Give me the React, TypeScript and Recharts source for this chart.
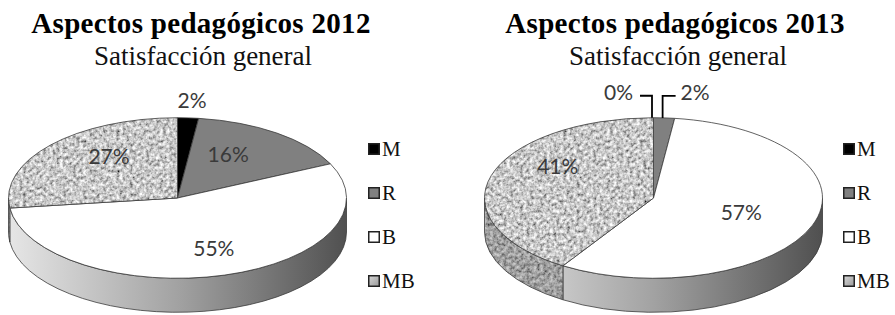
import React from 'react';
import { PieChart, Pie, Cell, Legend } from 'recharts';

// ---------- data ----------
const categories = ['M', 'R', 'B', 'MB'];
const values2012 = [2, 16, 55, 27];
const values2013 = [0, 2, 57, 41];
const titles = ['Aspectos pedagógicos 2012', 'Aspectos pedagógicos 2013'];
const subtitle = 'Satisfacción general';

const data2012 = categories.map((name, i) => ({ name, value: values2012[i] }));
const data2013 = categories.map((name, i) => ({ name, value: values2013[i] }));

// ---------- style ----------
const RAD = Math.PI / 180;
const RY = 0.475;
const DEPTH = 34;
const STROKE = '#3a3a3a';
const TOP_FILL: Record<string, string> = {
  M: '#000000',
  R: '#808080',
  B: '#ffffff',
  MB: 'url(#mbTex)',
};
const LEGEND_FILL: Record<string, string> = {
  M: '#000000',
  R: '#808080',
  B: '#ffffff',
  MB: 'url(#mbLeg)',
};

type Spec =
  | { kind: 'in'; fx: number; fy: number }
  | { kind: 'above'; dx: number; dy: number }
  | { kind: 'leaderL' }
  | { kind: 'leaderR' };

const specs2012: Spec[] = [
  { kind: 'above', dx: 4, dy: -17 },
  { kind: 'in', fx: 0.51, fy: 0.67 },
  { kind: 'in', fx: 0.77, fy: 0.65 },
  { kind: 'in', fx: 0.54, fy: 0.78 },
];
const specs2013: Spec[] = [
  { kind: 'leaderL' },
  { kind: 'leaderR' },
  { kind: 'in', fx: 0.552, fy: 0.535 },
  { kind: 'in', fx: 0.59, fy: 1.39 },
];

const makeShape = (gradId: string) => (props: any) => {
  const { cx, cy, outerRadius, startAngle, endAngle } = props;
  const cat: string = props.name ?? props.payload?.name;
  const rx = outerRadius;
  const ry = outerRadius * RY;
  const P = (a: number, dy = 0): [number, number] => [
    cx + rx * Math.cos(a * RAD),
    cy - ry * Math.sin(a * RAD) + dy,
  ];
  const s = Math.max(startAngle, endAngle);
  const e = Math.min(startAngle, endAngle);
  const span = s - e;
  if (span < 0.01) return <g />;
  const parts: React.ReactNode[] = [];
  // front side
  const hi = Math.min(s, 0);
  const lo = Math.max(e, -180);
  if (hi - lo > 0.01) {
    const [x1, y1] = P(hi);
    const [x2, y2] = P(lo);
    const d = `M${x1},${y1} A${rx},${ry} 0 0 1 ${x2},${y2} L${x2},${y2 + DEPTH} A${rx},${ry} 0 0 0 ${x1},${y1 + DEPTH} Z`;
    if (cat === 'MB') {
      parts.push(<path key="s1" d={d} fill="url(#mbTex)" stroke="none" />);
      parts.push(<path key="s2" d={d} fill="rgba(0,0,0,0.2)" stroke={STROKE} strokeWidth={0.8} />);
    } else if (cat === 'B') {
      parts.push(<path key="s1" d={d} fill={`url(#${gradId})`} stroke={STROKE} strokeWidth={0.8} />);
    } else {
      parts.push(<path key="s1" d={d} fill={cat === 'M' ? '#000' : '#5a5a5a'} stroke={STROKE} strokeWidth={0.8} />);
    }
  }
  // top face
  const [sx, sy] = P(s);
  const [ex, ey] = P(e);
  const large = span > 180 ? 1 : 0;
  const dTop = `M${cx},${cy} L${sx},${sy} A${rx},${ry} 0 ${large} 1 ${ex},${ey} Z`;
  parts.push(<path key="t" d={dTop} fill={TOP_FILL[cat]} stroke={STROKE} strokeWidth={0.8} strokeLinejoin="round" />);
  return <g>{parts}</g>;
};

const LABEL_FONT = 'Lato, "Open Sans", sans-serif';
const LABEL_SIZE = 21;
const LABEL_COLOR = '#3a3a3a';

const makeLabel = (specs: Spec[]) => (props: any) => {
  const { cx, cy, midAngle, outerRadius, index, value } = props;
  const spec = specs[index];
  const rx = outerRadius;
  const ry = outerRadius * RY;
  const c = Math.cos(midAngle * RAD);
  const sn = Math.sin(midAngle * RAD);
  const ex = cx + rx * c;
  const ey = cy - ry * sn;
  const txt = `${value}%`;
  const base = LABEL_SIZE * 0.36;
  const common = { fontFamily: LABEL_FONT, fontSize: LABEL_SIZE, fill: LABEL_COLOR };
  if (spec.kind === 'in') {
    const x = cx + rx * spec.fx * c;
    const y = cy - ry * spec.fy * sn;
    return (
      <text x={x} y={y + base} textAnchor="middle" {...common}>
        {txt}
      </text>
    );
  }
  if (spec.kind === 'above') {
    return (
      <text x={ex + spec.dx} y={ey + spec.dy + base} textAnchor="middle" {...common}>
        {txt}
      </text>
    );
  }
  const vx = ex - 1.5;
  const hy = ey - 22;
  if (spec.kind === 'leaderL') {
    return (
      <g>
        <polyline points={`${vx},${ey} ${vx},${hy} ${vx - 12},${hy}`} fill="none" stroke="#000" strokeWidth={1.8} />
        <text x={vx - 19} y={ey - 25 + base} textAnchor="end" {...common}>
          {txt}
        </text>
      </g>
    );
  }
  return (
    <g>
      <polyline points={`${vx},${ey} ${vx},${hy} ${vx + 13},${hy}`} fill="none" stroke="#000" strokeWidth={1.8} />
      <text x={vx + 18} y={ey - 25 + base} textAnchor="start" {...common}>
        {txt}
      </text>
    </g>
  );
};

const LegendBox = (props: any) => {
  const payload: any[] = [...(props.payload || [])].sort(
    (a: any, b: any) => categories.indexOf(String(a.value)) - categories.indexOf(String(b.value))
  );
  return (
    <div style={{ fontFamily: '"Liberation Serif", "Times New Roman", serif', fontSize: 21, color: '#111' }}>
      {payload.map((p: any, i: number) => {
        const name = String(p.value);
        return (
          <div key={i} style={{ position: 'relative', height: 44 }}>
            <svg width={12} height={12} style={{ position: 'absolute', left: 0, top: 4 }}>
              <rect x={0.75} y={0.75} width={10.5} height={10.5} fill={LEGEND_FILL[name]} stroke="#222" strokeWidth={1.5} />
            </svg>
            <span style={{ position: 'absolute', left: 14, top: 0, lineHeight: '20px', whiteSpace: 'nowrap' }}>{name}</span>
          </div>
        );
      })}
    </div>
  );
};

const shape2012 = makeShape('sideGrad2012');
const shape2013 = makeShape('sideGrad2013');

const titleStyle: React.CSSProperties = {
  position: 'absolute',
  width: 440,
  textAlign: 'center',
  fontFamily: '"Liberation Serif", "Times New Roman", serif',
  fontWeight: 'bold',
  fontSize: 29,
  lineHeight: '29px',
  letterSpacing: 0.3,
  color: '#000',
  whiteSpace: 'nowrap',
};
const subStyle: React.CSSProperties = {
  position: 'absolute',
  width: 440,
  textAlign: 'center',
  fontFamily: '"Liberation Serif", "Times New Roman", serif',
  fontSize: 27,
  lineHeight: '27px',
  color: '#111',
  whiteSpace: 'nowrap',
};

const ChartPanel = ({ data, specs, shape, cx, left, legendLeft }: any) => (
  <div style={{ position: 'absolute', left, top: 0 }}>
    <PieChart width={448} height={315} margin={{ top: 0, right: 0, bottom: 0, left: 0 }}>
      <Pie
        data={data}
        dataKey="value"
        nameKey="name"
        cx={cx}
        cy={198}
        outerRadius={169}
        startAngle={90}
        endAngle={-270}
        stroke="none"
        isAnimationActive={false}
        labelLine={false}
        label={makeLabel(specs)}
        shape={shape}
        activeShape={shape}
        inactiveShape={shape}
      >
        {data.map((d: any, i: number) => (
          <Cell key={i} fill={TOP_FILL[d.name]} />
        ))}
      </Pie>
      <Legend
        layout="vertical"
        align="right"
        verticalAlign="middle"
        content={<LegendBox />}
        wrapperStyle={{ position: 'absolute', left: legendLeft, top: 139, width: 60, right: 'auto', bottom: 'auto' }}
      />
    </PieChart>
  </div>
);

export default function App() {
  return (
    <div style={{ position: 'absolute', left: 0, top: 0, width: 895, height: 315, background: '#fff', overflow: 'hidden' }}>
      <svg width={0} height={0} style={{ position: 'absolute' }}>
        <defs>
          <filter id="noiseF" x="0" y="0" width="100%" height="100%">
            <feTurbulence type="fractalNoise" baseFrequency="0.3" numOctaves={3} seed={4} stitchTiles="stitch" />
            <feColorMatrix type="matrix" values="1.4 0 0 0 -0.12  1.4 0 0 0 -0.12  1.4 0 0 0 -0.12  0 0 0 0 1" />
          </filter>
          <pattern id="mbTex" patternUnits="userSpaceOnUse" width={450} height={320}>
            <rect width={450} height={320} filter="url(#noiseF)" />
          </pattern>
          <linearGradient id="mbLeg" x1="0" y1="0" x2="1" y2="1">
            <stop offset="0" stopColor="#d8d8d8" />
            <stop offset="1" stopColor="#9a9a9a" />
          </linearGradient>
          <linearGradient id="sideGrad2012" gradientUnits="userSpaceOnUse" x1={9} y1={0} x2={347} y2={0}>
            <stop offset="0" stopColor="#e6e6e6" />
            <stop offset="0.5" stopColor="#a2a2a2" />
            <stop offset="1" stopColor="#505050" />
          </linearGradient>
          <linearGradient id="sideGrad2013" gradientUnits="userSpaceOnUse" x1={38} y1={0} x2={375} y2={0}>
            <stop offset="0" stopColor="#e6e6e6" />
            <stop offset="0.5" stopColor="#a2a2a2" />
            <stop offset="1" stopColor="#505050" />
          </linearGradient>
        </defs>
      </svg>
      <div style={{ ...titleStyle, left: 201 - 220, top: 9 }}>{titles[0]}</div>
      <div style={{ ...subStyle, left: 203 - 220, top: 42.5 }}>{subtitle}</div>
      <div style={{ ...titleStyle, left: 675 - 220, top: 9 }}>{titles[1]}</div>
      <div style={{ ...subStyle, left: 678 - 220, top: 42.5 }}>{subtitle}</div>
      <ChartPanel data={data2012} specs={specs2012} shape={shape2012} cx={177.5} left={0} legendLeft={368} />
      <ChartPanel data={data2013} specs={specs2013} shape={shape2013} cx={206.5} left={447} legendLeft={396} />
    </div>
  );
}
